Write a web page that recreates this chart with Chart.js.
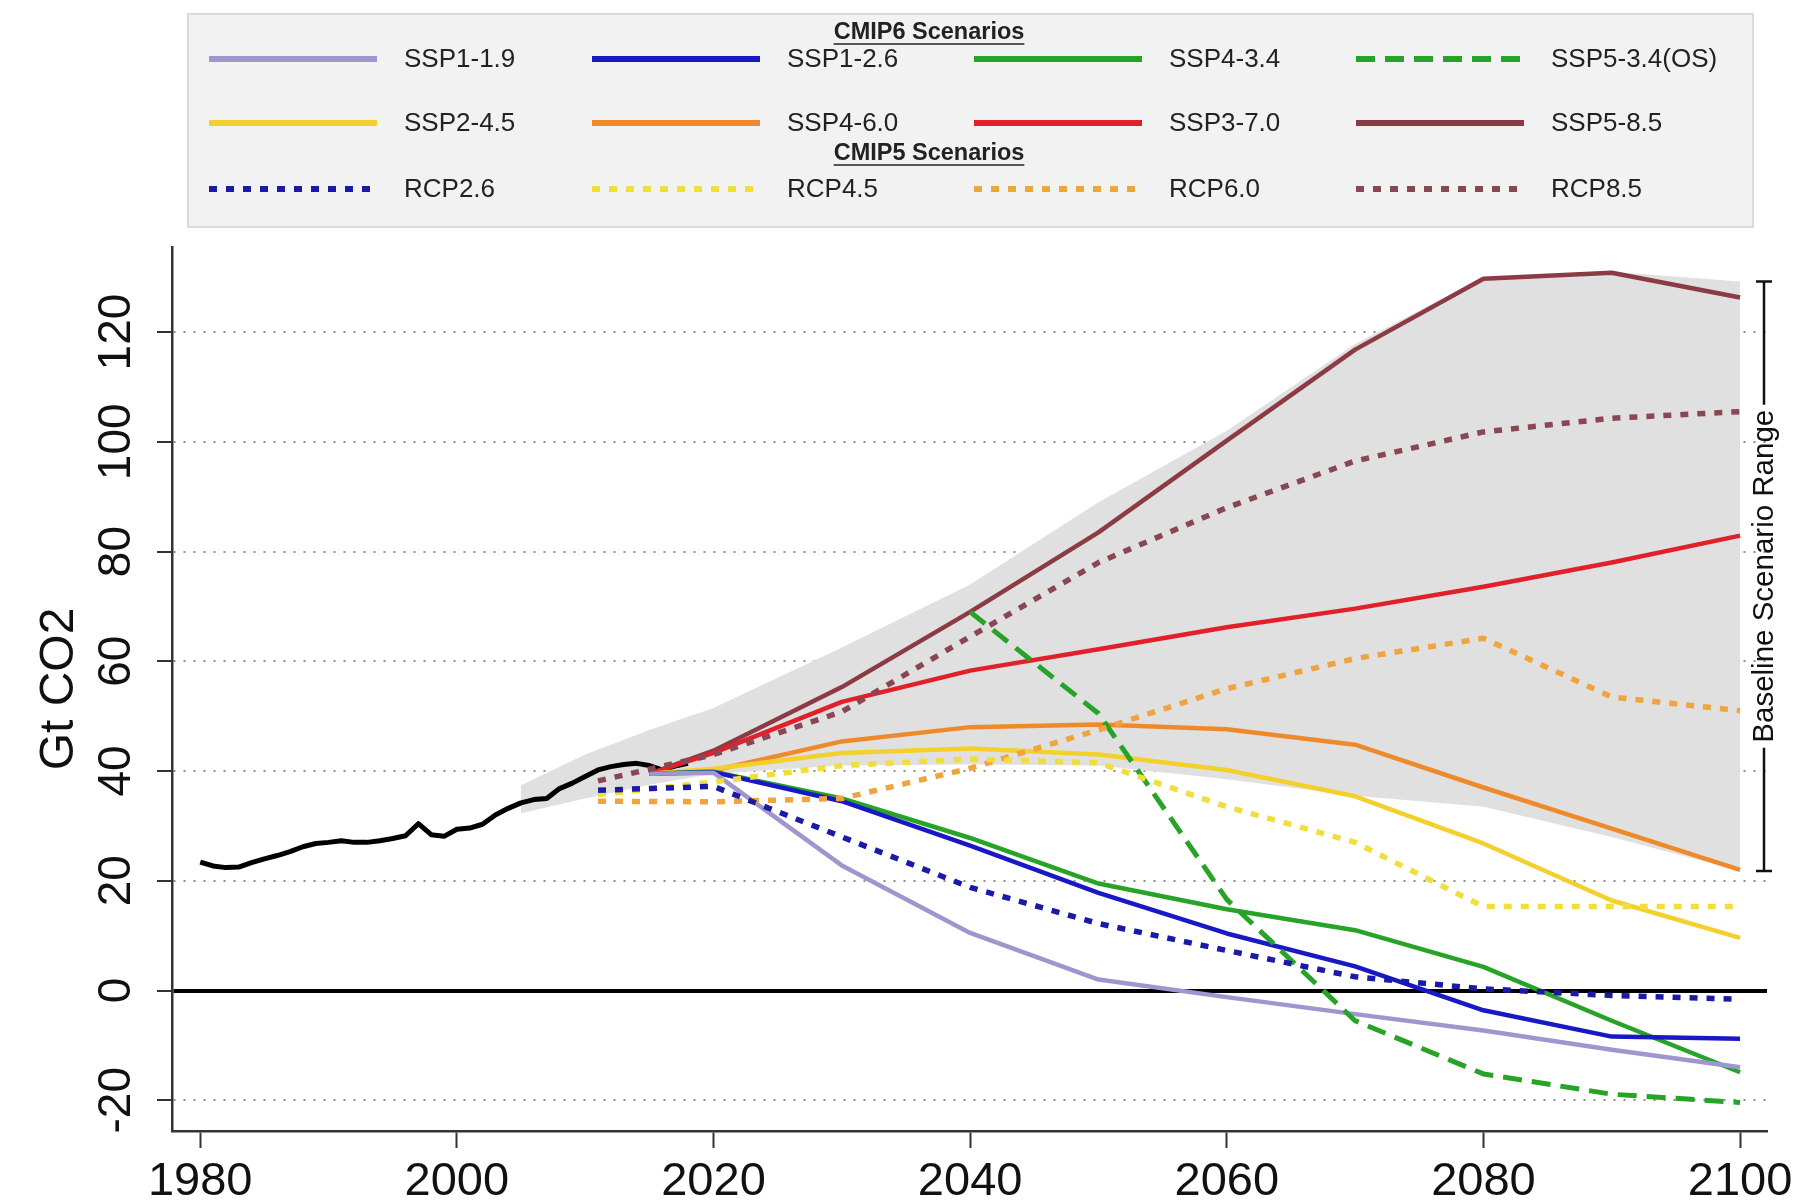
<!DOCTYPE html>
<html>
<head>
<meta charset="utf-8">
<title>Global CO2 emissions: CMIP6 and CMIP5 scenarios</title>
<script src="https://cdn.jsdelivr.net/npm/chart.js@4.4.1/dist/chart.umd.min.js"></script>
<style>
  html, body { margin: 0; padding: 0; background: #ffffff; overflow: hidden; }
  #wrap { position: relative; width: 1819px; height: 1203px; }
  canvas { display: block; }
</style>
</head>
<body>
<div id="wrap"><canvas id="chart" width="1819" height="1203"></canvas></div>
<script>
// ---- Historical emissions (Gt CO2 per year) ----
const histYears = [1980,1981,1982,1983,1984,1985,1986,1987,1988,1989,1990,1991,1992,1993,1994,1995,1996,1997,1998,1999,
                   2000,2001,2002,2003,2004,2005,2006,2007,2008,2009,2010,2011,2012,2013,2014,2015,2016,2017,2018];
const histValues = [23.4,22.7,22.4,22.5,23.3,24.0,24.6,25.3,26.2,26.8,27.0,27.3,27.0,27.0,27.3,27.7,28.2,30.4,28.4,28.1,
                    29.4,29.6,30.3,32.0,33.2,34.2,34.8,35.0,36.8,37.8,39.0,40.2,40.8,41.2,41.4,41.0,40.2,40.9,41.4];

// ---- CMIP6 scenarios (SSPs) ----
const sspYears = [2015,2020,2030,2040,2050,2060,2070,2080,2090,2100];
const ssp119 = [39.5,39.7,22.8,10.5,2.0,-1.2,-4.3,-7.3,-10.8,-14.0];
const ssp126 = [39.5,39.8,34.5,26.4,17.8,10.4,4.4,-3.6,-8.4,-8.8];
const ssp434 = [39.5,39.9,35.0,27.8,19.5,14.8,11.0,4.3,-5.5,-14.9];
const ssp245 = [39.5,40.4,43.3,44.1,43.0,40.2,35.4,26.8,16.4,9.6];
const ssp460 = [39.5,40.1,45.4,48.0,48.5,47.6,44.8,37.0,29.5,22.0];
const ssp370 = [39.5,43.3,52.6,58.3,62.2,66.2,69.6,73.6,78.0,82.9];
const ssp585 = [39.5,43.7,55.3,69.0,83.5,100.2,116.8,129.7,130.8,126.3];
const ssp534osYears = [2040,2050,2060,2070,2080,2090,2100];
const ssp534os = [69.0,50.5,16.6,-5.5,-15.2,-18.9,-20.4];

// ---- CMIP5 scenarios (RCPs) ----
const rcpYears = [2011,2020,2030,2040,2050,2060,2070,2080,2090,2100];
const rcp26 = [36.5,37.2,28.0,18.8,12.2,7.3,2.5,0.3,-0.9,-1.6];
const rcp45 = [35.7,38.0,41.0,42.2,41.5,33.5,27.0,15.3,15.3,15.3];
const rcp60 = [34.5,34.4,35.0,40.5,47.5,55.0,60.5,64.2,53.5,51.0];
const rcp85 = [38.2,43.0,50.8,64.5,78.0,88.0,96.5,101.8,104.3,105.5];

// ---- Baseline scenario range (shaded envelope) ----
const rangeYears = [2005,2010,2015,2020,2030,2040,2050,2060,2070,2080,2090,2100];
const rangeUpper = [37.4,43.0,47.5,51.5,62.5,74.0,89.0,102.0,117.8,130.0,131.0,129.2];
const rangeLower = [32.3,35.0,37.5,39.5,41.0,41.2,41.0,38.5,35.5,33.5,28.0,21.8];

// ---- Axis ticks ----
const xTicks = [1980,2000,2020,2040,2060,2080,2100];
const yTicks = [-20,0,20,40,60,80,100,120];

const FONT = "'Liberation Sans', Arial, Helvetica, sans-serif";

function series(xs, ys) { return xs.map((x, i) => ({ x: x, y: ys[i] })); }

const SOLID = [];
const DOTTED = [8, 9];
const DASHED = [19, 10];

function sspLine(label, ys, color, order) {
  return { label, data: series(sspYears, ys), borderColor: color, borderWidth: 4.5,
           borderDash: SOLID, fill: false, order };
}
function rcpLine(label, ys, color) {
  return { label, data: series(rcpYears, ys), borderColor: color, borderWidth: 5.5,
           borderDash: DOTTED, fill: false, order: 1 };
}

const datasets = [
  // shaded envelope (upper edge fills down to the next dataset, the lower edge)
  { label: 'rangeUpper', data: series(rangeYears, rangeUpper), borderWidth: 0, borderColor: 'rgba(0,0,0,0)',
    backgroundColor: '#e0e0e0', fill: '+1', order: 50 },
  { label: 'rangeLower', data: series(rangeYears, rangeLower), borderWidth: 0, borderColor: 'rgba(0,0,0,0)',
    fill: false, order: 51 },

  { label: 'Historical', data: series(histYears, histValues), borderColor: '#000000', borderWidth: 5,
    fill: false, order: 6 },

  sspLine('SSP1-1.9', ssp119, '#9d96cf', 4),
  sspLine('SSP1-2.6', ssp126, '#1818c4', 4),
  sspLine('SSP4-3.4', ssp434, '#27a327', 4),
  sspLine('SSP2-4.5', ssp245, '#f3d02c', 4),
  sspLine('SSP4-6.0', ssp460, '#ef8a2b', 4),
  sspLine('SSP3-7.0', ssp370, '#e2202a', 4),
  sspLine('SSP5-8.5', ssp585, '#8c3b44', 4),
  { label: 'SSP5-3.4(OS)', data: series(ssp534osYears, ssp534os), borderColor: '#27a327', borderWidth: 5,
    borderDash: DASHED, fill: false, order: 2 },

  rcpLine('RCP2.6', rcp26, '#1a1aa6'),
  rcpLine('RCP4.5', rcp45, '#f1dd3c'),
  rcpLine('RCP6.0', rcp60, '#f1a33f'),
  rcpLine('RCP8.5', rcp85, '#8a4651')
];

// legend layout: two groups with a header each
const legendGroups = [
  { title: 'CMIP6 Scenarios', rows: [
      ['SSP1-1.9', 'SSP1-2.6', 'SSP4-3.4', 'SSP5-3.4(OS)'],
      ['SSP2-4.5', 'SSP4-6.0', 'SSP3-7.0', 'SSP5-8.5'] ] },
  { title: 'CMIP5 Scenarios', rows: [
      ['RCP2.6', 'RCP4.5', 'RCP6.0', 'RCP8.5'] ] }
];

const decorations = {
  id: 'decorations',
  afterDraw(chart) {
    const ctx = chart.ctx;
    const ys = chart.scales.y;
    const area = chart.chartArea;

    // --- y tick labels, rotated like the axis title ---
    ctx.save();
    ctx.fillStyle = '#111';
    ctx.font = '46px ' + FONT;
    ctx.textAlign = 'center';
    ctx.textBaseline = 'middle';
    ys.ticks.forEach(t => {
      const py = ys.getPixelForValue(t.value);
      ctx.save();
      ctx.translate(117, py);
      ctx.rotate(-Math.PI / 2);
      ctx.fillText(String(t.value), 0, 0);
      ctx.restore();
    });
    ctx.restore();

    // --- baseline scenario range bracket on the right ---
    const bx = area.right - 3;
    const yTop = ys.getPixelForValue(rangeUpper[rangeUpper.length - 1]);
    const yBot = ys.getPixelForValue(rangeLower[rangeLower.length - 1]);
    const yMid = (yTop + yBot) / 2;
    const label = 'Baseline Scenario Range';
    ctx.save();
    ctx.font = '29.5px ' + FONT;
    const tw = ctx.measureText(label).width;
    ctx.strokeStyle = '#111';
    ctx.lineWidth = 2.5;
    ctx.beginPath();
    ctx.moveTo(bx, yTop); ctx.lineTo(bx, yMid - tw / 2 - 5);
    ctx.moveTo(bx, yMid + tw / 2 + 5); ctx.lineTo(bx, yBot);
    ctx.moveTo(bx - 8, yTop); ctx.lineTo(bx + 8, yTop);
    ctx.moveTo(bx - 8, yBot); ctx.lineTo(bx + 8, yBot);
    ctx.stroke();
    ctx.fillStyle = '#111';
    ctx.textAlign = 'center';
    ctx.textBaseline = 'middle';
    ctx.translate(bx, yMid);
    ctx.rotate(-Math.PI / 2);
    ctx.fillText(label, 0, 1);
    ctx.restore();

    // --- legend box ---
    const box = { x: 188, y: 14, w: 1565, h: 213 };
    ctx.save();
    ctx.fillStyle = '#f2f2f2';
    ctx.fillRect(box.x, box.y, box.w, box.h);
    ctx.strokeStyle = '#d6dbe0';
    ctx.lineWidth = 2;
    ctx.strokeRect(box.x, box.y, box.w, box.h);

    const colX = [209, 592, 974, 1356];
    const lineLen = 168;
    const textGap = 27;
    const headerY = [33, 154];
    const rowY = [[59, 123], [189]];
    const headerX = 929;

    legendGroups.forEach((g, gi) => {
      ctx.font = 'bold 23.5px ' + FONT;
      ctx.fillStyle = '#222';
      ctx.textAlign = 'center';
      ctx.textBaseline = 'middle';
      ctx.fillText(g.title, headerX, headerY[gi]);
      const hw = ctx.measureText(g.title).width;
      ctx.strokeStyle = '#222';
      ctx.lineWidth = 1.5;
      ctx.setLineDash([]);
      ctx.beginPath();
      ctx.moveTo(headerX - hw / 2, headerY[gi] + 11);
      ctx.lineTo(headerX + hw / 2, headerY[gi] + 11);
      ctx.stroke();

      g.rows.forEach((row, ri) => {
        const y = rowY[gi][ri];
        row.forEach((name, ci) => {
          const ds = chart.data.datasets.find(d => d.label === name);
          const x0 = colX[ci];
          ctx.save();
          ctx.strokeStyle = ds.borderColor;
          ctx.lineWidth = 6;
          ctx.setLineDash(ds.borderDash || []);
          ctx.beginPath();
          ctx.moveTo(x0, y);
          ctx.lineTo(x0 + lineLen, y);
          ctx.stroke();
          ctx.restore();
          ctx.font = '26px ' + FONT;
          ctx.fillStyle = '#222';
          ctx.textAlign = 'left';
          ctx.textBaseline = 'middle';
          ctx.fillText(name, x0 + lineLen + textGap, y + 1);
        });
      });
    });
    ctx.restore();
  }
};

new Chart(document.getElementById('chart').getContext('2d'), {
  type: 'line',
  data: { datasets },
  options: {
    responsive: false,
    animation: false,
    devicePixelRatio: 1,
    layout: { padding: { top: 247, right: 52, left: 0, bottom: 0 } },
    plugins: {
      legend: { display: false },
      tooltip: { enabled: false },
      filler: { propagate: false }
    },
    elements: {
      point: { radius: 0, hoverRadius: 0 },
      line: { tension: 0, borderCapStyle: 'butt', borderJoinStyle: 'round' }
    },
    scales: {
      x: {
        type: 'linear',
        min: 1977.8,
        max: 2102.1,
        afterBuildTicks: s => { s.ticks = xTicks.map(v => ({ value: v })); },
        afterFit: s => { s.height = 1203 - 1131; },
        grid: { drawOnChartArea: false, drawTicks: true, tickLength: 17, tickColor: '#333', tickWidth: 2 },
        border: { display: true, color: '#333', width: 2.5 },
        ticks: {
          autoSkip: false, maxRotation: 0, padding: 6, color: '#111',
          font: { family: FONT, size: 47 },
          callback: v => String(v)
        }
      },
      y: {
        type: 'linear',
        min: -25.6,
        max: 135.5,
        afterBuildTicks: s => { s.ticks = yTicks.map(v => ({ value: v })); },
        afterFit: s => { s.width = 172; },
        grid: {
          drawOnChartArea: true, drawTicks: true, tickLength: 15,
          tickColor: '#333', tickWidth: 2, tickBorderDash: [],
          color: c => (c.tick && c.tick.value === 0) ? '#000000' : '#8e8e8e',
          lineWidth: c => (c.tick && c.tick.value === 0) ? 4 : 2
        },
        border: {
          display: true, color: '#333', width: 2.5,
          dash: c => (c.tick && c.tick.value === 0) ? [] : [2, 8]
        },
        ticks: { display: false },
        title: {
          display: true, text: 'Gt CO2', color: '#111',
          font: { family: FONT, size: 48 },
          padding: { top: 31, bottom: 0 }
        }
      }
    }
  },
  plugins: [decorations]
});
</script>
</body>
</html>
